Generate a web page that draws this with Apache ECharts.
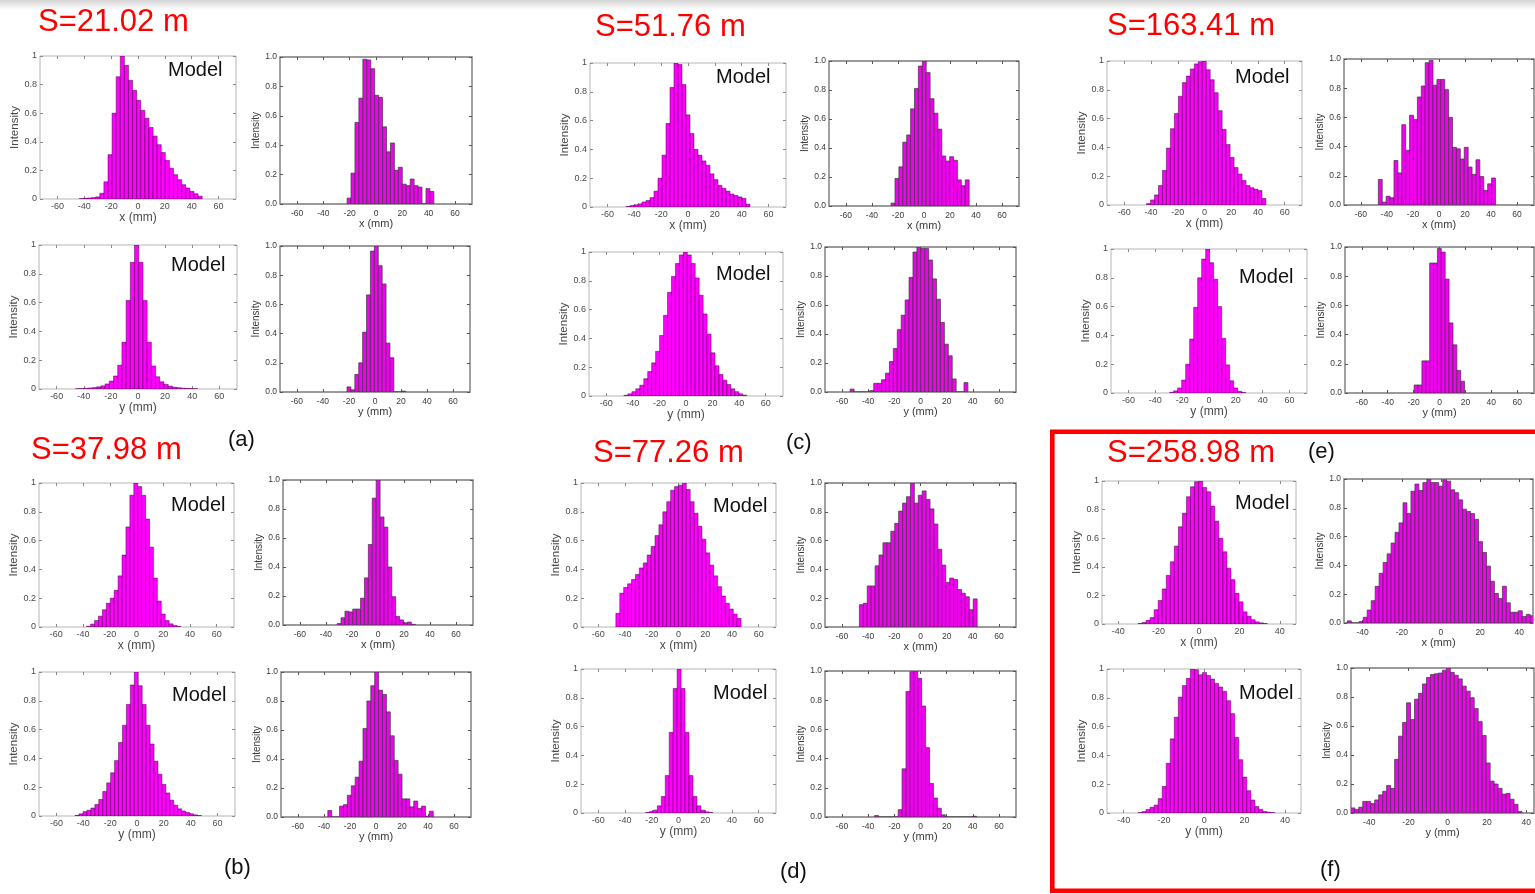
<!DOCTYPE html>
<html><head><meta charset="utf-8">
<script src="https://cdn.jsdelivr.net/npm/echarts@6/dist/echarts.min.js"></script>
<style>html,body{margin:0;padding:0;background:#fff}#c{width:1535px;height:894px}</style>
</head><body><div id="c"></div>
<script>
// ---------- DATA (normalised intensity per bin; bins = [first bin start (mm), bin width (mm)]) ----------
const aModelXBins=[-43.7,3.05];
const aModelX=[0.003,0.005,0.007,0.01,0.015,0.04,0.12,0.31,0.6,0.855,1.0,0.935,0.83,0.76,0.69,0.62,0.565,0.5,0.44,0.38,0.325,0.27,0.215,0.17,0.135,0.1,0.077,0.053,0.037,0.02];
const aMeasXBins=[-22,3];
const aMeasX=[0.04,0.21,0.555,0.72,0.985,0.98,0.92,0.74,0.725,0.525,0.355,0.415,0.23,0.25,0.135,0.125,0.17,0.125,0.115,0,0.105,0.085];
const aModelYBins=[-45.95,3.1];
const aModelY=[0.002,0.003,0.005,0.007,0.01,0.015,0.022,0.035,0.055,0.09,0.165,0.325,0.615,0.88,1.0,0.88,0.615,0.325,0.16,0.085,0.05,0.032,0.02,0.013,0.009,0.006,0.004,0.003,0.002];
const aMeasYBins=[-21.5,3];
const aMeasY=[0.035,0.015,0.12,0.2,0.41,0.665,0.965,1.0,0.865,0.74,0.335,0.235,0,0,0.006];

const bModelXBins=[-37.3,2.94];
const bModelX=[0.005,0.02,0.045,0.075,0.12,0.165,0.2,0.255,0.355,0.5,0.695,0.915,1.0,0.975,0.915,0.75,0.555,0.34,0.18,0.09,0.045,0.022,0.01,0.004];
const bMeasXBins=[-31.4,3];
const bMeasX=[0.01,0.05,0.095,0.09,0.11,0.11,0.185,0.325,0.555,0.875,1.0,0.745,0.675,0.4,0.195,0.06,0.035,0.015,0.02,0.005];
const bModelYBins=[-46.1,2.94];
const bModelY=[0.005,0.015,0.03,0.04,0.055,0.08,0.115,0.17,0.23,0.3,0.385,0.51,0.63,0.775,0.91,1.0,0.905,0.775,0.63,0.5,0.38,0.29,0.22,0.16,0.11,0.075,0.05,0.035,0.025,0.015,0.008,0.003];
const bMeasYBins=[-37,3];
const bMeasY=[0.045,0,0,0.075,0.085,0.15,0.215,0.275,0.385,0.61,0.8,0.905,1.0,0.875,0.845,0.725,0.56,0.39,0.295,0.125,0.125,0.07,0.11,0.06,0.075,0.005,0.04];

const cModelXBins=[-46.2,2.98];
const cModelX=[0.003,0.01,0.015,0.022,0.035,0.045,0.065,0.11,0.2,0.36,0.58,0.83,1.0,0.99,0.85,0.64,0.51,0.4,0.36,0.32,0.29,0.23,0.19,0.15,0.13,0.11,0.09,0.08,0.07,0.06,0.02];
const cMeasXBins=[-25.3,3];
const cMeasX=[0.02,0.19,0.27,0.44,0.49,0.67,0.81,0.965,1.0,0.92,0.74,0.64,0.53,0.345,0.31,0.34,0.315,0.18,0.14,0.18];
const cModelYBins=[-46.7,2.98];
const cModelY=[0.005,0.015,0.03,0.05,0.075,0.12,0.17,0.23,0.31,0.42,0.56,0.72,0.83,0.92,0.98,1.0,0.98,0.92,0.82,0.7,0.57,0.43,0.3,0.21,0.15,0.11,0.08,0.05,0.03,0.015,0.006];
const cMeasYBins=[-53.75,3];
const cMeasY=[0.02,0,0,0,0,0.01,0.06,0.06,0.085,0.13,0.21,0.3,0.43,0.53,0.635,0.79,0.965,1.0,0.99,0.99,0.91,0.78,0.64,0.48,0.33,0.25,0.09,0,0,0.065];

const dModelXBins=[-46.9,2.93];
const dModelX=[0.095,0.235,0.275,0.3,0.33,0.365,0.41,0.445,0.5,0.56,0.635,0.71,0.8,0.87,0.95,0.975,0.985,1.0,0.955,0.87,0.79,0.7,0.61,0.515,0.43,0.355,0.28,0.215,0.165,0.125,0.09,0.06];
const dMeasXBins=[-46.7,3];
const dMeasX=[0.155,0.165,0.285,0.285,0.425,0.5,0.585,0.585,0.665,0.72,0.805,0.86,0.905,1.0,0.86,0.915,0.945,0.885,0.82,0.715,0.54,0.43,0.31,0.34,0.33,0.26,0.235,0.21,0.12,0.195];
const dModelYBins=[-24.7,2.96];
const dModelY=[0.003,0.01,0.02,0.05,0.115,0.26,0.56,0.865,1.0,0.865,0.56,0.26,0.115,0.05,0.02,0.008,0.003];
const dMeasYBins=[-35.1,3];
const dMeasY=[0.01,0,0,0,0,0,0.05,0.33,0.86,0.995,1.0,0.95,0.76,0.475,0.23,0.13,0.06,0.015,0,0,0,0,0,0,0,0.005];

const eModelXBins=[-43.4,2.98];
const eModelX=[0.01,0.035,0.07,0.135,0.24,0.395,0.53,0.635,0.755,0.85,0.895,0.945,0.98,0.995,1.0,0.94,0.87,0.78,0.655,0.525,0.42,0.33,0.26,0.215,0.17,0.135,0.12,0.11,0.1,0.045];
const eMeasXBins=[-46.6,3];
const eMeasX=[0.175,0.02,0.06,0.05,0.305,0.22,0.55,0.375,0.615,0.585,0.74,0.815,0.975,0.99,0.82,0.86,0.86,0.79,0.6,0.395,0.385,0.315,0.395,0.26,0.21,0.31,0.195,0.1,0.145,0.185];
const eModelYBins=[-29.3,2.98];
const eModelY=[0.005,0.015,0.035,0.09,0.2,0.375,0.595,0.8,0.93,1.0,0.905,0.79,0.6,0.38,0.195,0.085,0.035,0.012,0.004];
const eMeasYBins=[-19.6,3];
const eMeasY=[0.055,0.055,0.22,0.22,0.89,0.89,0.99,0.965,0.78,0.48,0.33,0.155,0.08];

const fModelXBins=[-30.2,2];
const fModelX=[0.003,0.01,0.025,0.045,0.1,0.165,0.245,0.34,0.435,0.545,0.68,0.775,0.89,0.96,0.995,1.0,0.955,0.925,0.825,0.72,0.6,0.505,0.39,0.31,0.215,0.155,0.085,0.055,0.03,0.015,0.008,0.003];
const fMeasXBins=[-47.8,2.03];
const fMeasX=[0.015,0,0,0.01,0.04,0.09,0.155,0.255,0.345,0.42,0.48,0.555,0.63,0.695,0.835,0.76,0.915,0.965,0.92,0.975,1.0,0.975,0.975,0.95,0.995,0.985,0.925,0.905,0.855,0.79,0.775,0.76,0.72,0.565,0.49,0.395,0.29,0.205,0.17,0.255,0.14,0.075,0.075,0.085,0.045,0.06,0.05];
const fModelYBins=[-32.9,2];
const fModelY=[0.003,0.01,0.025,0.04,0.055,0.1,0.185,0.345,0.515,0.665,0.805,0.885,0.935,1.0,0.995,0.96,0.975,0.955,0.93,0.9,0.875,0.845,0.78,0.69,0.525,0.37,0.25,0.155,0.09,0.045,0.025,0.01,0.005,0.002];
const fMeasYBins=[-49.4,2.03];
const fMeasY=[0.035,0.025,0.04,0.08,0.08,0.065,0.09,0.125,0.15,0.19,0.17,0.37,0.53,0.625,0.76,0.645,0.785,0.825,0.89,0.935,0.955,0.96,0.965,0.985,1.0,0.97,0.95,0.925,0.875,0.84,0.795,0.72,0.63,0.535,0.345,0.22,0.2,0.17,0.13,0.135,0.095,0.06,0.01];

const xTicksWide=[-60,-40,-20,0,20,40,60];
const xTicksF=[-40,-20,0,20,40];
const sectionTitles=['S=21.02 m','S=51.76 m','S=163.41 m','S=37.98 m','S=77.26 m','S=258.98 m'];
const sectionLetters=['(a)','(c)','(e)','(b)','(d)','(f)'];

// ---------- LAYOUT ----------
const panels=[
 {d:aModelX,b:aModelXBins,r:[40,56,236,199],k:'model',ax:'x',rg:[-73,73],t:xTicksWide},
 {d:aMeasX,b:aMeasXBins,r:[280,57,472,204],k:'meas',ax:'x',rg:[-73,73],t:xTicksWide},
 {d:aModelY,b:aModelYBins,r:[39,245,237,389],k:'model',ax:'y',rg:[-73,73],t:xTicksWide},
 {d:aMeasY,b:aMeasYBins,r:[280,246,470,392],k:'meas',ax:'y',rg:[-73,73],t:xTicksWide},
 {d:cModelX,b:cModelXBins,r:[590,63,786,207],k:'model',ax:'x',rg:[-73,73],t:xTicksWide},
 {d:cMeasX,b:cMeasXBins,r:[829,61,1019,206],k:'meas',ax:'x',rg:[-73,73],t:xTicksWide},
 {d:cModelY,b:cModelYBins,r:[589,252,783,396],k:'model',ax:'y',rg:[-73,73],t:xTicksWide},
 {d:cMeasY,b:cMeasYBins,r:[825,247,1016,392],k:'meas',ax:'y',rg:[-73,73],t:xTicksWide},
 {d:eModelX,b:eModelXBins,r:[1107,61,1302,205],k:'model',ax:'x',rg:[-73,73],t:xTicksWide},
 {d:eMeasX,b:eMeasXBins,r:[1344,59,1534,205],k:'meas',ax:'x',rg:[-73,73],t:xTicksWide},
 {d:eModelY,b:eModelYBins,r:[1111,249,1307,393],k:'model',ax:'y',rg:[-73,73],t:xTicksWide},
 {d:eMeasY,b:eMeasYBins,r:[1345,247,1534,393],k:'meas',ax:'y',rg:[-73,73],t:xTicksWide},
 {d:bModelX,b:bModelXBins,r:[39,483,234,627],k:'model',ax:'x',rg:[-73,73],t:xTicksWide},
 {d:bMeasX,b:bMeasXBins,r:[283,480,473,625],k:'meas',ax:'x',rg:[-73,73],t:xTicksWide},
 {d:bModelY,b:bModelYBins,r:[39,672,235,816],k:'model',ax:'y',rg:[-73,73],t:xTicksWide},
 {d:bMeasY,b:bMeasYBins,r:[281,672,471,817],k:'meas',ax:'y',rg:[-73,73],t:xTicksWide},
 {d:dModelX,b:dModelXBins,r:[581,483,776,627],k:'model',ax:'x',rg:[-73,73],t:xTicksWide},
 {d:dMeasX,b:dMeasXBins,r:[825,483,1016,627],k:'meas',ax:'x',rg:[-73,73],t:xTicksWide},
 {d:dModelY,b:dModelYBins,r:[581,669,776,813],k:'model',ax:'y',rg:[-73,73],t:xTicksWide},
 {d:dMeasY,b:dMeasYBins,r:[825,671,1016,817],k:'meas',ax:'y',rg:[-73,73],t:xTicksWide},
 {d:fModelX,b:fModelXBins,r:[1102,481,1296,624],k:'model',ax:'x',rg:[-48,48],t:xTicksF},
 {d:fMeasX,b:fMeasXBins,r:[1344,479,1533,623],k:'meas',ax:'x',rg:[-49.5,47],t:xTicksF},
 {d:fModelY,b:fModelYBins,r:[1107,669,1301,813],k:'model',ax:'y',rg:[-48.3,48],t:xTicksF},
 {d:fMeasY,b:fMeasYBins,r:[1351,668,1534,813],k:'meas',ax:'y',rg:[-49.3,44],t:xTicksF}
];
const modelLabelPos=[[168,70],[171,265],[716,77],[716,274],[1235,77],[1239,277],[171,505],[172,695],[713,506],[713,693],[1235,503],[1239,693]];
const titlePos=[[38,22],[595,27],[1107,26],[31,450],[593,453],[1107,453]];
const letterPos=[[228,440],[786,443],[1308,452],[224,868],[780,872],[1320,870]];

const FF='"Liberation Sans", Arial, sans-serif';
const option={animation:false,backgroundColor:'#fff',grid:[],xAxis:[],yAxis:[],series:[],graphic:[]};

panels.forEach((p,i)=>{
  const [l,t,r,b]=p.r; const m=p.k==='model';
  const tickCol=m?'#8a8a8a':'#555';
  const labCol=m?'#4a4a4a':'#3a3a3a';
  option.grid.push({left:l,top:t,width:r-l,height:b-t,show:true,borderColor:m?'#b5b5b5':'#7a7a7a',borderWidth:m?1:1.4,backgroundColor:'#fff'});
  const xb={gridIndex:i,type:'value',min:p.rg[0],max:p.rg[1],axisLine:{show:false,onZero:false},splitLine:{show:false},
    axisTick:{inside:true,length:3,customValues:p.t,lineStyle:{color:tickCol}}};
  option.xAxis.push(Object.assign({},xb,{position:'bottom',name:p.ax+' (mm)',nameLocation:'middle',nameGap:m?9:12,
    nameTextStyle:{fontSize:m?12:11,color:labCol,fontFamily:FF},
    axisLabel:{customValues:p.t,fontSize:m?9:8.5,color:labCol,margin:m?3:5,fontFamily:FF}}));
  option.xAxis.push(Object.assign({},xb,{position:'top',axisLabel:{show:false}}));
  const yb={gridIndex:i,type:'value',min:0,max:1,interval:0.2,axisLine:{show:false,onZero:false},splitLine:{show:false},
    axisTick:{inside:true,length:3,lineStyle:{color:tickCol}}};
  option.yAxis.push(Object.assign({},yb,{position:'left',name:'Intensity',nameLocation:'middle',nameGap:19,
    nameTextStyle:{fontSize:m?11.5:10,color:labCol,fontFamily:FF},
    axisLabel:{fontSize:m?9:8.5,color:labCol,margin:3,fontFamily:FF,
      formatter:v=>m?(v===0?'0':(Math.abs(v-1)<1e-9?'1':v.toFixed(1))):v.toFixed(1)}}));
  option.yAxis.push(Object.assign({},yb,{position:'right',axisLabel:{show:false}}));
  const data=p.d.map((v,j)=>[p.b[0]+j*p.b[1],p.b[0]+(j+1)*p.b[1],v]);
  option.series.push({type:'custom',xAxisIndex:2*i,yAxisIndex:2*i,clip:true,data:data,
    renderItem:function(params,api){
      const p0=api.coord([api.value(0),api.value(2)]);
      const p1=api.coord([api.value(1),0]);
      return {type:'rect',shape:{x:p0[0],y:p0[1],width:p1[0]-p0[0],height:p1[1]-p0[1]},
        style:{fill:m?'#ff00ff':'#f200f2',stroke:m?'rgba(50,0,50,0.8)':'#3a3a3a',lineWidth:m?0.6:0.7}};
    }});
});

option.graphic.push({type:'rect',shape:{x:0,y:0,width:1535,height:10},style:{fill:{type:'linear',x:0,y:0,x2:0,y2:1,colorStops:[{offset:0,color:'#d6d6d6'},{offset:1,color:'#ffffff'}]}},z:-1,silent:true});
modelLabelPos.forEach(([x,y])=>option.graphic.push({type:'text',x:x,y:y,z:50,style:{text:'Model',fontSize:20,fontFamily:FF,fill:'#111',verticalAlign:'middle'}}));
sectionTitles.forEach((s,i)=>option.graphic.push({type:'text',x:titlePos[i][0],y:titlePos[i][1],z:50,style:{text:s,fontSize:31,fontFamily:FF,fill:'#ff0000',verticalAlign:'middle'}}));
sectionLetters.forEach((s,i)=>option.graphic.push({type:'text',x:letterPos[i][0],y:letterPos[i][1],z:50,style:{text:s,fontSize:22,fontFamily:FF,fill:'#111',verticalAlign:'middle'}}));
option.graphic.push({type:'rect',z:60,shape:{x:1052.3,y:431.7,width:500,height:459},style:{fill:'none',stroke:'#ff0000',lineWidth:4.6}});

const chart=echarts.init(document.getElementById('c'),null,{renderer:'canvas'});
chart.setOption(option);
</script></body></html>
